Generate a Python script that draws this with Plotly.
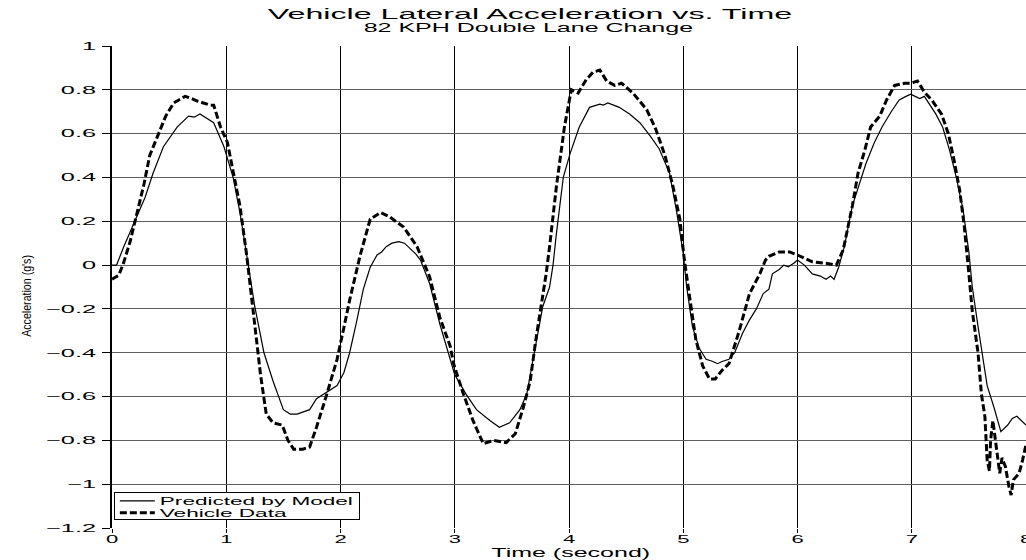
import plotly.graph_objects as go

# ---------------- data ----------------
time_model = [0.00, 0.04, 0.10, 0.19, 0.29, 0.36, 0.45, 0.57, 0.67, 0.72, 0.77, 0.89, 0.98,
              1.06, 1.12, 1.19, 1.25, 1.33, 1.41, 1.50, 1.56, 1.62, 1.68, 1.73, 1.79, 1.85,
              1.92, 1.97, 2.03, 2.08, 2.14, 2.20, 2.26, 2.32, 2.36, 2.40, 2.45, 2.51, 2.56,
              2.61, 2.66, 2.70, 2.78, 2.87, 2.94, 3.00, 3.10, 3.19, 3.31, 3.39, 3.48, 3.57,
              3.63, 3.67, 3.72, 3.77, 3.83, 3.86, 3.89, 3.95, 4.01, 4.09, 4.18, 4.23, 4.27,
              4.30, 4.34, 4.44, 4.53, 4.62, 4.71, 4.79, 4.88, 4.94, 5.00, 5.03, 5.08, 5.14,
              5.20, 5.26, 5.30, 5.34, 5.40, 5.45, 5.52, 5.58, 5.64, 5.70, 5.75, 5.78, 5.84,
              5.88, 5.92, 5.97, 6.00, 6.06, 6.13, 6.20, 6.25, 6.29, 6.32, 6.36, 6.41, 6.48,
              6.54, 6.60, 6.67, 6.74, 6.82, 6.89, 6.95, 6.99, 7.03, 7.07, 7.11, 7.15, 7.21,
              7.27, 7.33, 7.39, 7.45, 7.50, 7.53, 7.58, 7.62, 7.66, 7.72, 7.78, 7.84, 7.88,
              7.92, 7.96, 8.00]
accel_model = [0.00, 0.00, 0.08, 0.19, 0.31, 0.42, 0.54, 0.63, 0.68, 0.675, 0.69, 0.65, 0.54,
               0.40, 0.24, 0.01, -0.19, -0.40, -0.53, -0.66, -0.68, -0.68, -0.67, -0.66, -0.61, -0.59,
               -0.57, -0.55, -0.49, -0.40, -0.26, -0.11, -0.01, 0.046, 0.06, 0.084, 0.10, 0.107, 0.10,
               0.076, 0.05, 0.023, -0.084, -0.27, -0.40, -0.50, -0.59, -0.66, -0.71, -0.74, -0.72, -0.66,
               -0.59, -0.48, -0.33, -0.19, -0.10, 0.00, 0.145, 0.40, 0.51, 0.63, 0.72, 0.73, 0.735,
               0.73, 0.74, 0.72, 0.69, 0.65, 0.59, 0.53, 0.42, 0.25, 0.053, -0.10, -0.28, -0.38,
               -0.43, -0.44, -0.45, -0.44, -0.43, -0.40, -0.31, -0.25, -0.20, -0.13, -0.11, -0.04, -0.02,
               0.00, -0.008, 0.01, 0.023, 0.00, -0.04, -0.05, -0.065, -0.05, -0.065, -0.01, 0.084, 0.27,
               0.37, 0.465, 0.556, 0.63, 0.70, 0.754, 0.77, 0.78, 0.77, 0.76, 0.77, 0.74, 0.69,
               0.63, 0.526, 0.40, 0.25, 0.06, -0.10, -0.28, -0.42, -0.55, -0.65, -0.76, -0.73, -0.70,
               -0.69, -0.71, -0.73]

time_vehicle = [0.00, 0.06, 0.10, 0.16, 0.22, 0.28, 0.33, 0.41, 0.47, 0.54, 0.64, 0.70, 0.74,
                0.80, 0.86, 0.89, 0.95, 1.01, 1.06, 1.12, 1.18, 1.24, 1.30, 1.35, 1.41, 1.49,
                1.54, 1.59, 1.67, 1.73, 1.79, 1.88, 1.97, 2.04, 2.08, 2.17, 2.26, 2.35, 2.43,
                2.55, 2.67, 2.78, 2.87, 2.96, 2.99, 3.07, 3.16, 3.25, 3.34, 3.45, 3.53, 3.60,
                3.66, 3.71, 3.76, 3.80, 3.83, 3.89, 3.96, 4.02, 4.08, 4.15, 4.21, 4.27, 4.33,
                4.40, 4.46, 4.56, 4.68, 4.76, 4.84, 4.91, 4.97, 5.01, 5.06, 5.11, 5.17, 5.23,
                5.28, 5.34, 5.40, 5.49, 5.58, 5.67, 5.72, 5.75, 5.84, 5.93, 6.00, 6.06, 6.13,
                6.25, 6.34, 6.40, 6.48, 6.53, 6.59, 6.64, 6.72, 6.78, 6.85, 6.94, 6.99, 7.05,
                7.11, 7.18, 7.26, 7.32, 7.37, 7.42, 7.46, 7.50, 7.53, 7.58, 7.61, 7.64, 7.66,
                7.68, 7.69, 7.71, 7.74, 7.77, 7.79, 7.82, 7.85, 7.87, 7.89, 7.94, 7.97, 8.00]
accel_vehicle = [-0.065, -0.046, 0.008, 0.11, 0.24, 0.37, 0.50, 0.60, 0.68, 0.74, 0.77, 0.76, 0.75,
                 0.74, 0.73, 0.73, 0.63, 0.56, 0.43, 0.27, 0.04, -0.22, -0.50, -0.68, -0.72, -0.73,
                 -0.80, -0.84, -0.84, -0.83, -0.74, -0.59, -0.43, -0.26, -0.16, 0.04, 0.21, 0.24, 0.22,
                 0.175, 0.084, -0.053, -0.24, -0.37, -0.45, -0.58, -0.71, -0.815, -0.80, -0.81, -0.77, -0.65,
                 -0.53, -0.34, -0.18, -0.04, 0.084, 0.36, 0.63, 0.80, 0.785, 0.846, 0.88, 0.89, 0.84,
                 0.82, 0.83, 0.785, 0.71, 0.62, 0.50, 0.36, 0.21, 0.023, -0.16, -0.34, -0.46, -0.52,
                 -0.52, -0.48, -0.45, -0.30, -0.13, -0.04, 0.023, 0.04, 0.06, 0.06, 0.046, 0.03, 0.015,
                 0.008, 0.00, 0.069, 0.27, 0.42, 0.526, 0.63, 0.68, 0.754, 0.82, 0.83, 0.83, 0.84,
                 0.79, 0.75, 0.69, 0.60, 0.48, 0.34, 0.175, -0.04, -0.21, -0.40, -0.59, -0.69, -0.89,
                 -0.94, -0.80, -0.71, -0.83, -0.95, -0.88, -0.92, -1.01, -1.05, -0.98, -0.95, -0.89, -0.82]

x_ticks = [0, 1, 2, 3, 4, 5, 6, 7, 8]
x_tick_labels = ["0", "1", "2", "3", "4", "5", "6", "7", "8"]
y_ticks = [-1.2, -1.0, -0.8, -0.6, -0.4, -0.2, 0, 0.2, 0.4, 0.6, 0.8, 1.0]
y_tick_labels = ["\u22121.2", "\u22121", "\u22120.8", "\u22120.6", "\u22120.4", "\u22120.2",
                 "0", "0.2", "0.4", "0.6", "0.8", "1"]

title_text = "Vehicle Lateral Acceleration vs. Time"
subtitle_text = "82 KPH Double Lane Change"
x_title = "Time (second)"
y_title = "Acceleration (g's)"
series_names = ["Predicted by Model", "Vehicle Data"]

FONT = "Liberation Sans, Arial, Helvetica, sans-serif"

fig = go.Figure()
fig.add_trace(go.Scatter(x=time_model, y=accel_model, mode="lines", name=series_names[0],
                         line=dict(color="black", width=1.2)))
fig.add_trace(go.Scatter(x=time_vehicle, y=accel_vehicle, mode="lines", name=series_names[1],
                         line=dict(color="black", width=3, dash="7px,3px")))

fig.update_layout(
    template="none",
    width=1026, height=560,
    margin=dict(l=112, r=0, t=46, b=32, pad=0),
    paper_bgcolor="white", plot_bgcolor="white",
    font=dict(family=FONT, color="black", size=12),
    showlegend=True,
    legend=dict(x=0.002, y=0.016, xanchor="left", yanchor="bottom",
                bgcolor="white", bordercolor="black", borderwidth=1,
                font=dict(family=FONT, size=11, color="black"),
                tracegroupgap=0, itemwidth=35),
    xaxis=dict(range=[0, 8], tickmode="array", tickvals=x_ticks, ticktext=x_tick_labels,
               showgrid=True, gridcolor="black", gridwidth=1.4,
               zeroline=False, showline=False, automargin=False,
               ticks="outside", ticklen=4, tickcolor="black", tickwidth=1,
               ticklabeloverflow="allow", ticklabelstandoff=-3,
               tickfont=dict(family=FONT, size=11, color="black")),
    yaxis=dict(range=[-1.2, 1], tickmode="array", tickvals=y_ticks, ticktext=y_tick_labels,
               showgrid=True, gridcolor="#5f5f5f", gridwidth=1,
               zeroline=False, showline=True, linecolor="black", linewidth=1.5,
               automargin=False, ticks="outside", ticklen=8, tickcolor="black", tickwidth=1,
               ticklabelstandoff=4,
               tickfont=dict(family=FONT, size=11, color="black")),
    annotations=[
        dict(text=title_text, xref="paper", yref="paper", x=(530 - 112) / 914, y=(528 - 13.5) / 482,
             xanchor="center", yanchor="middle", showarrow=False,
             font=dict(family=FONT, size=14, color="black")),
        dict(text=subtitle_text, xref="paper", yref="paper", x=(528 - 112) / 914, y=(528 - 28) / 482,
             xanchor="center", yanchor="middle", showarrow=False,
             font=dict(family=FONT, size=12.5, color="black")),
        dict(text=y_title, xref="paper", yref="paper", x=-(112 - 27) / 914, y=(528 - 296) / 482,
             xanchor="center", yanchor="middle", textangle=-90, showarrow=False,
             font=dict(family=FONT, size=12.5, color="black")),
        dict(text=x_title, xref="paper", yref="paper", x=(570 - 112) / 914, y=-(552.5 - 528) / 482,
             xanchor="center", yanchor="middle", showarrow=False,
             font=dict(family=FONT, size=12.5, color="black")),
    ],
)

post_js = r"""
(function(){
  var gd = document.getElementById('{plot_id}');
  var rules = [
    ['.xtick text', 2.0],
    ['.ytick text', 2.3],
    ['.annotation[data-index="0"] text', 2.3],
    ['.annotation[data-index="1"] text', 2.0],
    ['.annotation[data-index="2"] text', 0.85],
    ['.annotation[data-index="3"] text', 2.0],
    ['.legendtext', 2.05]
  ];
  function parseT(s){
    var m = /translate\(\s*([-\d.e]+)[ ,]+([-\d.e]+)\s*\)/.exec(s || '');
    return m ? [parseFloat(m[1]), parseFloat(m[2])] : [0, 0];
  }
  function apply(){
    var legExtra = 0;
    rules.forEach(function(r){
      gd.querySelectorAll(r[0]).forEach(function(t){
        t.removeAttribute('textLength');
        var L = t.getComputedTextLength();
        if (!L) return;
        t.setAttribute('textLength', (L * r[1]).toFixed(2));
        t.setAttribute('lengthAdjust', 'spacingAndGlyphs');
        if (r[0] === '.legendtext') legExtra = Math.max(legExtra, L * (r[1] - 1));
      });
    });
    var leg = gd.querySelector('g.legend');
    if (!leg) return;
    var bg = leg.querySelector('rect.bg');
    var sb = leg.querySelector('.scrollbox');
    if (sb) sb.removeAttribute('clip-path');
    if (!bg) return;
    if (!leg.getAttribute('data-t0')) {
      leg.setAttribute('data-t0', leg.getAttribute('transform') || '');
      bg.setAttribute('data-w0', bg.getAttribute('width'));
      bg.setAttribute('data-h0', bg.getAttribute('height'));
    }
    var w0 = parseFloat(bg.getAttribute('data-w0'));
    var h0 = parseFloat(bg.getAttribute('data-h0'));
    var H = 27, first = 8, step = 12;
    bg.setAttribute('width', (w0 + legExtra).toFixed(1));
    bg.setAttribute('height', H);
    var lt = parseT(leg.getAttribute('data-t0'));
    leg.setAttribute('transform', 'translate(' + lt[0] + ',' + (lt[1] + h0 - H) + ')');
    var by = parseFloat(bg.getAttribute('y')) || 0;
    leg.querySelectorAll('.traces').forEach(function(g, i){
      if (!g.getAttribute('data-t0')) g.setAttribute('data-t0', g.getAttribute('transform') || '');
      var tt = parseT(g.getAttribute('data-t0'));
      g.setAttribute('transform', 'translate(' + tt[0] + ',' + (by + first + i * step) + ')');
    });
  }
  apply();
  setTimeout(apply, 30);
  if (gd.on) gd.on('plotly_afterplot', function(){ setTimeout(apply, 0); });
})();
"""

fig.write_html("out.html", post_script=post_js)
